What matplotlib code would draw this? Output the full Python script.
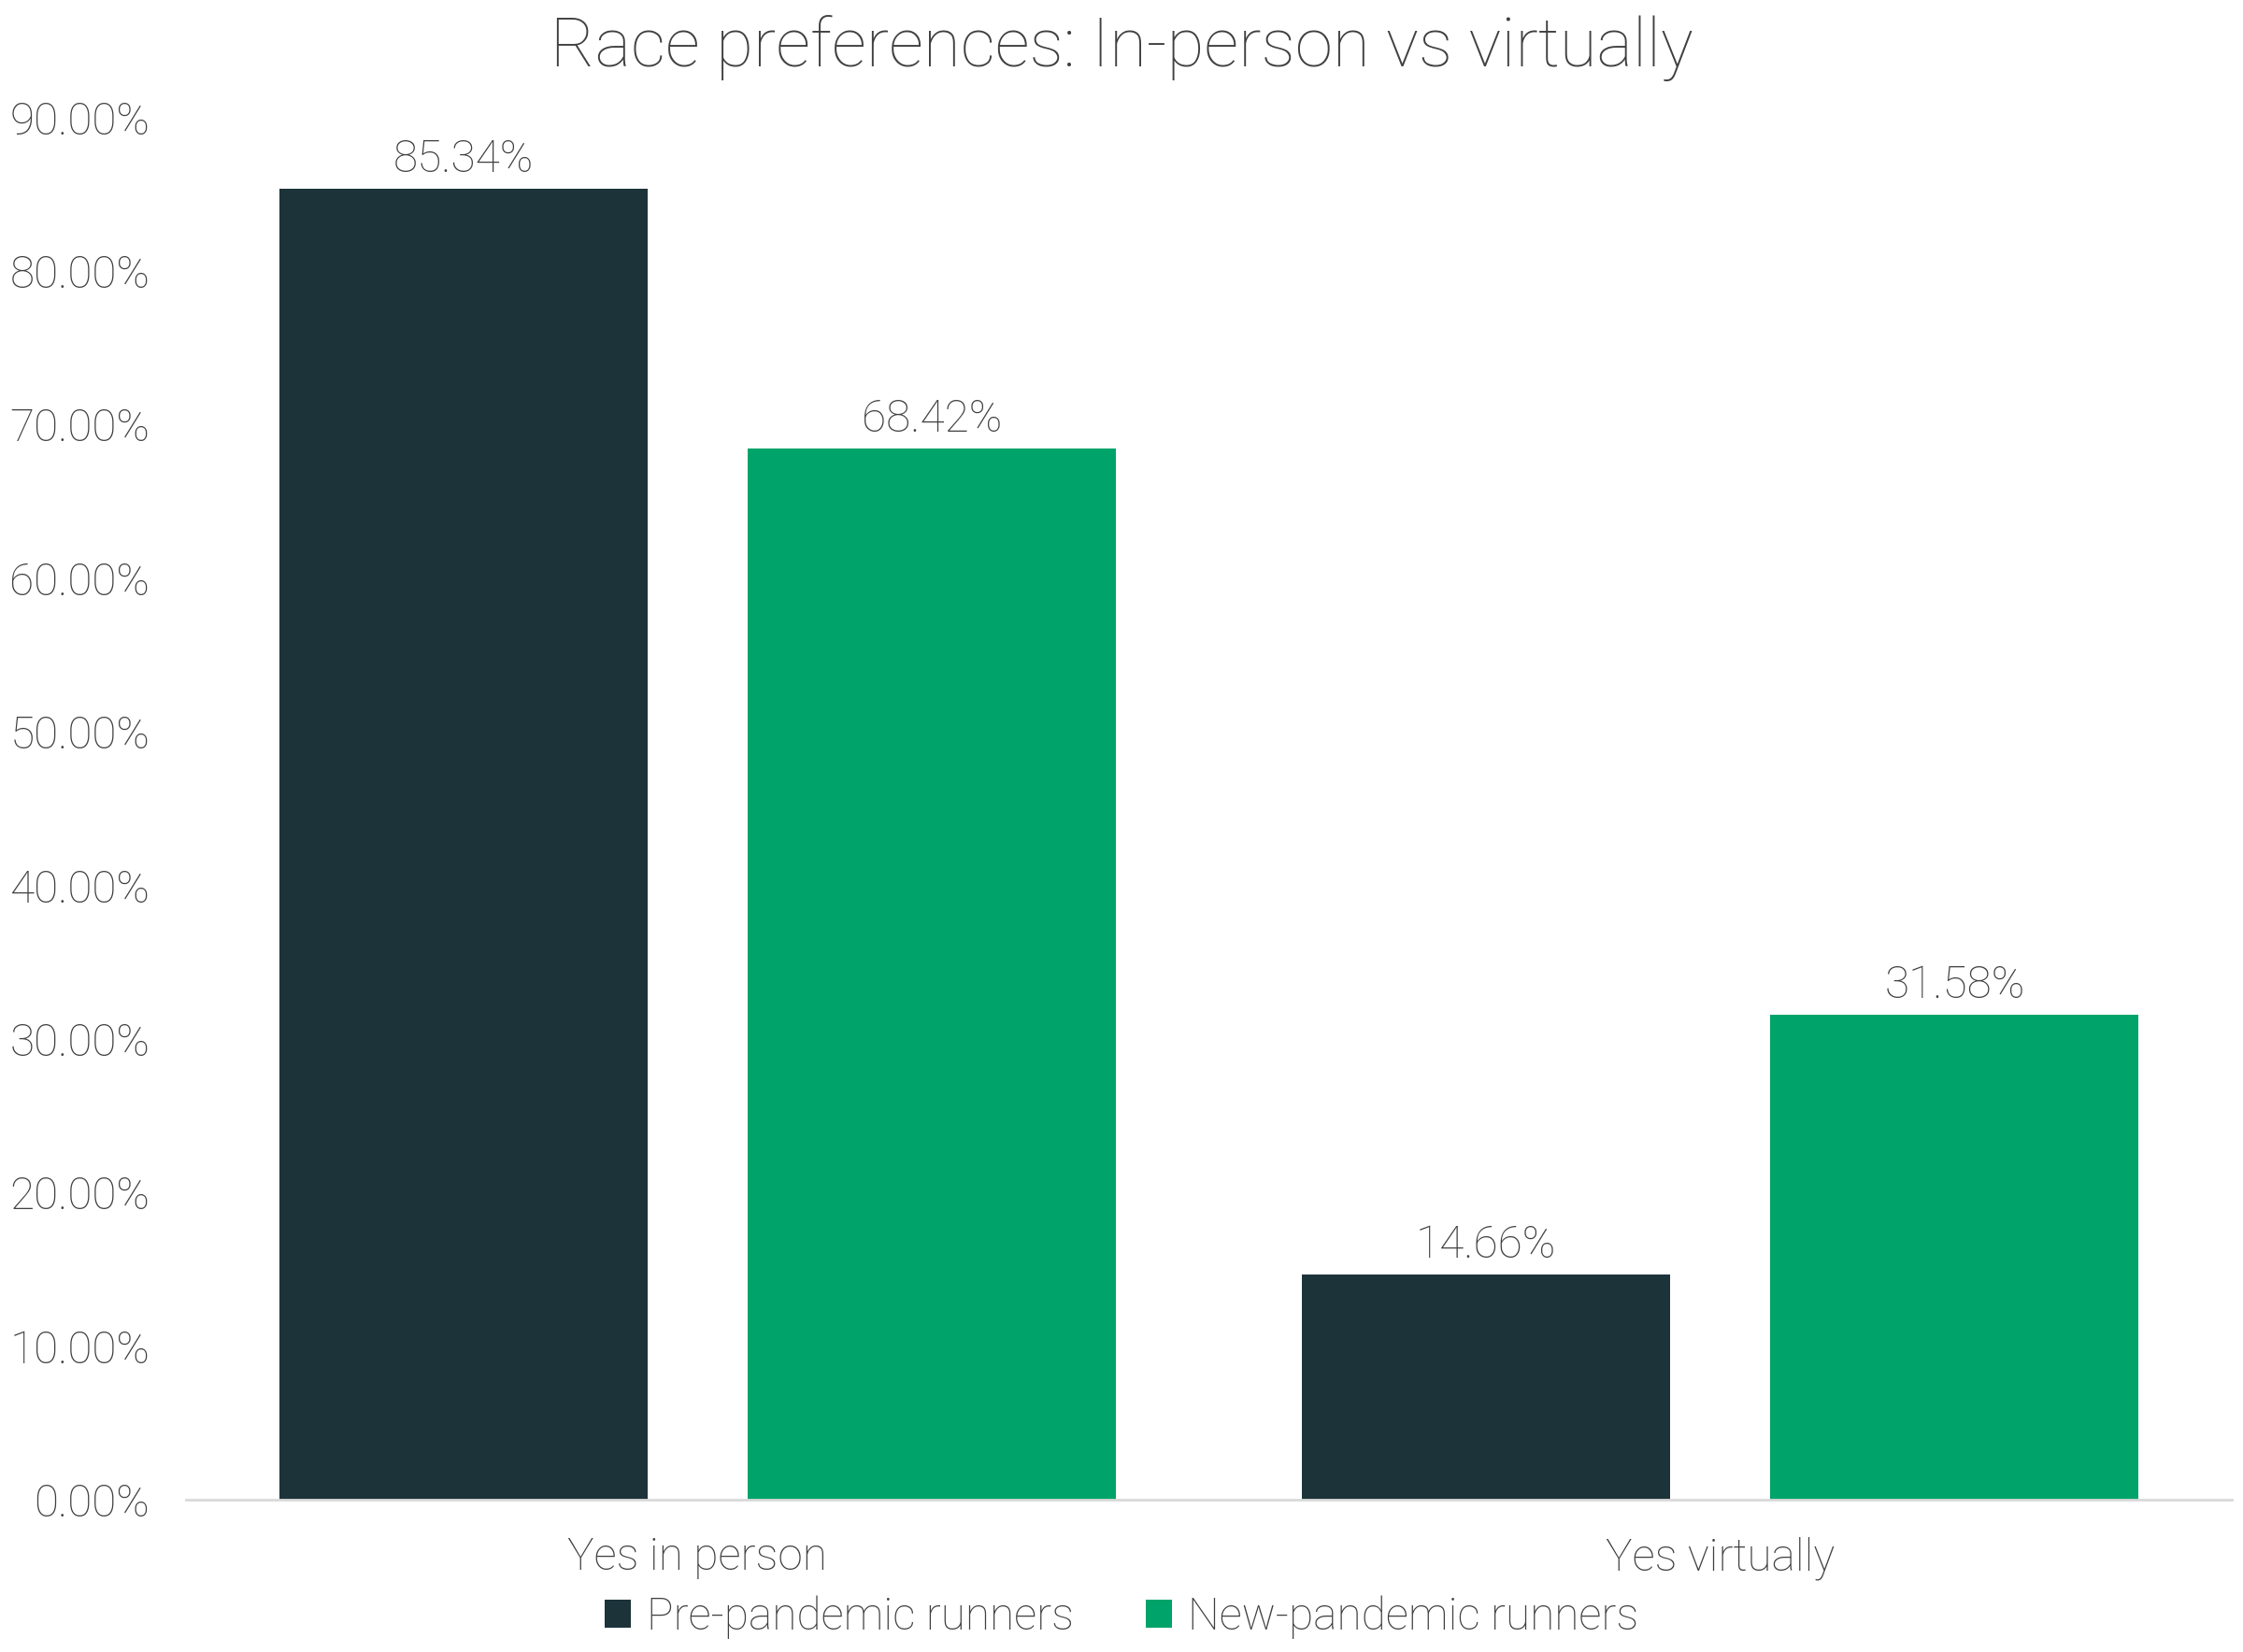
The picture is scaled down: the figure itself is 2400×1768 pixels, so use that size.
import matplotlib
matplotlib.use("Agg")
import matplotlib.pyplot as plt
import numpy as np

categories = ["Yes in person", "Yes virtually"]
series_names = ["Pre-pandemic runners", "New-pandemic runners"]
pre_pandemic = [85.34, 14.66]
new_pandemic = [68.42, 31.58]
yticks = [0, 10, 20, 30, 40, 50, 60, 70, 80, 90]

colors = ["#1C333A", "#00A36A"]
txt = "#404040"
fs = 17.2

plt.rcParams['font.family'] = ['Roboto', 'DejaVu Sans']
plt.rcParams['font.weight'] = 'light'

fig = plt.figure(figsize=(12, 8.84), dpi=200)
ax = fig.add_axes([0.083, 0.092, 0.912, 0.837])

x = np.arange(len(categories))
w = 0.36
off = 0.229
b1 = ax.bar(x - off, pre_pandemic, w, color=colors[0], label=series_names[0])
b2 = ax.bar(x + off, new_pandemic, w, color=colors[1], label=series_names[1])

for bars, vals in ((b1, pre_pandemic), (b2, new_pandemic)):
    for r, v in zip(bars, vals):
        ax.annotate(f"{v:.2f}%", (r.get_x() + r.get_width() / 2, v),
                    xytext=(0, 3), textcoords="offset points",
                    ha="center", va="bottom", fontsize=fs, color=txt,
                    fontweight="light")

ax.set_xlim(-0.5, 1.5)
ax.set_ylim(0, 90)
ax.set_yticks(yticks)
ax.set_yticklabels([f"{t:.2f}%" for t in yticks], fontsize=fs, color=txt)
ax.set_xticks(x)
ax.set_xticklabels(categories, fontsize=fs, color=txt)
ax.tick_params(axis="both", length=0)
ax.tick_params(axis="y", pad=14)
ax.tick_params(axis="x", pad=14)

for s in ("top", "right", "left"):
    ax.spines[s].set_visible(False)
ax.spines["bottom"].set_color("#D9D9D9")
ax.spines["bottom"].set_linewidth(1)

fig.suptitle("Race preferences: In-person vs virtually", fontsize=26.2,
             color=txt, x=0.5, y=0.971, va="center", fontweight="light")

leg = fig.legend(loc="center", bbox_to_anchor=(0.5, 0.021), ncol=2,
                 frameon=False, fontsize=fs, handlelength=0.6,
                 handleheight=0.6, handletextpad=0.35, columnspacing=1.6)
for t in leg.get_texts():
    t.set_color(txt)

fig.savefig("out.png", dpi=200)
